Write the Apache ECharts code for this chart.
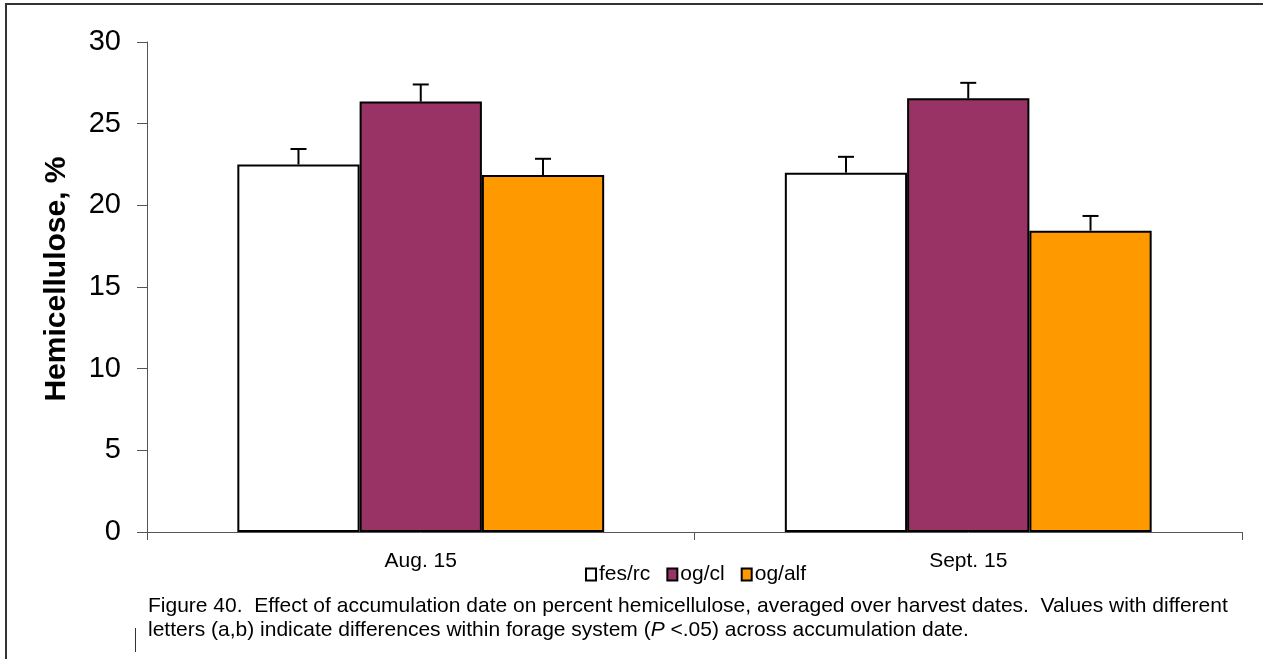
<!DOCTYPE html>
<html>
<head>
<meta charset="utf-8">
<script src="https://cdn.jsdelivr.net/npm/echarts@6/dist/echarts.min.js"></script>
<style>
html,body{margin:0;padding:0;background:#fff;}
#c{width:1263px;height:659px;}
</style>
</head>
<body>
<div id="c"></div>
<script>
var categories = ['Aug. 15', 'Sept. 15'];
var seriesNames = ['fes/rc', 'og/cl', 'og/alf'];
var fesRc = [22.5, 22.0];
var ogCl = [26.35, 26.55];
var ogAlf = [21.85, 18.45];
var errFesRc = [0.95, 0.97];
var errOgCl = [1.05, 0.95];
var errOgAlf = [1.0, 0.9];
var yTicks = [0, 5, 10, 15, 20, 25, 30];
var colors = ['#FFFFFF', '#993366', '#FF9900'];

var FONT = '"Liberation Sans", Arial, sans-serif';
var values = [fesRc, ogCl, ogAlf];
var errs = [errFesRc, errOgCl, errOgAlf];
var catGap = 0.33;

var errData = [];
for (var s = 0; s < 3; s++) {
  for (var i = 0; i < categories.length; i++) {
    errData.push([i, values[s][i], errs[s][i], s]);
  }
}

var chart = echarts.init(document.getElementById('c'), null, {renderer: 'canvas'});
var series = [];
for (var s2 = 0; s2 < 3; s2++) {
  series.push({
    name: seriesNames[s2],
    type: 'bar',
    data: values[s2],
    barGap: '0%',
    barCategoryGap: '33%',
    itemStyle: {color: colors[s2], borderColor: '#000', borderWidth: 2},
    emphasis: {disabled: true},
    animation: false
  });
}
series.push({
  type: 'custom',
  data: errData,
  z: 10,
  animation: false,
  silent: true,
  renderItem: function (params, api) {
    var cat = api.value(0), v = api.value(1), e = api.value(2), s = api.value(3);
    var band = api.size([1, 0])[0];
    var bw = band * (1 - catGap) / 3;
    var base = api.coord([cat, v]);
    var top = api.coord([cat, v + e]);
    var x = base[0] + (s - 1) * bw;
    var half = 8;
    return {
      type: 'group',
      children: [
        {type: 'line', shape: {x1: x, y1: base[1], x2: x, y2: top[1]}, style: {stroke: '#000', lineWidth: 2}},
        {type: 'line', shape: {x1: x - half, y1: top[1], x2: x + half, y2: top[1]}, style: {stroke: '#000', lineWidth: 2}}
      ]
    };
  }
});

chart.setOption({
  animation: false,
  textStyle: {fontFamily: FONT},
  grid: {left: 147, right: 21, top: 42, bottom: 127, containLabel: false},
  legend: {
    data: seriesNames,
    left: 585,
    top: 564,
    padding: 0,
    itemWidth: 10,
    itemHeight: 12,
    itemGap: 16,
    icon: 'rect',
    textStyle: {fontSize: 21, color: '#000', fontFamily: FONT, padding: [0, 0, 0, -2]},
    selectedMode: false
  },
  xAxis: {
    type: 'category',
    data: categories,
    axisLine: {lineStyle: {color: '#555', width: 1}},
    axisTick: {show: true, length: 8, lineStyle: {color: '#555'}},
    axisLabel: {fontSize: 21, color: '#000', margin: 19, fontFamily: FONT},
    splitLine: {show: false}
  },
  yAxis: {
    type: 'value',
    min: yTicks[0],
    max: yTicks[yTicks.length - 1],
    interval: 5,
    axisLine: {show: true, lineStyle: {color: '#555', width: 1}},
    axisTick: {show: true, length: 10, lineStyle: {color: '#555'}},
    axisLabel: {fontSize: 29, color: '#000', margin: 26, fontFamily: FONT},
    splitLine: {show: false}
  },
  series: series,
  graphic: [
    {type: 'polyline', shape: {points: [[6, 659], [6, 4], [1263, 4]]}, style: {stroke: '#333', lineWidth: 2, fill: null}, silent: true},
    {type: 'line', shape: {x1: 135.5, y1: 628, x2: 135.5, y2: 652}, style: {stroke: '#333', lineWidth: 1}, silent: true},
    {type: 'text', x: 57, y: 279, rotation: Math.PI / 2, style: {text: 'Hemicellulose, %', fontSize: 30, fontWeight: 'bold', fill: '#000', fontFamily: FONT, align: 'center', verticalAlign: 'middle'}, silent: true},
    {type: 'text', left: 148, top: 596, style: {text: 'Figure 40.  Effect of accumulation date on percent hemicellulose, averaged over harvest dates.  Values with different', fontSize: 21, fill: '#000', fontFamily: FONT}, silent: true},
    {type: 'text', left: 148, top: 620, style: {
      text: '{a|letters (a,b) indicate differences within forage system (}{i|P}{a| <.05) across accumulation date.}',
      rich: {a: {fontSize: 21, fill: '#000', fontFamily: FONT}, i: {fontSize: 21, fill: '#000', fontStyle: 'italic', fontFamily: FONT}}
    }, silent: true}
  ]
});
</script>
</body>
</html>
